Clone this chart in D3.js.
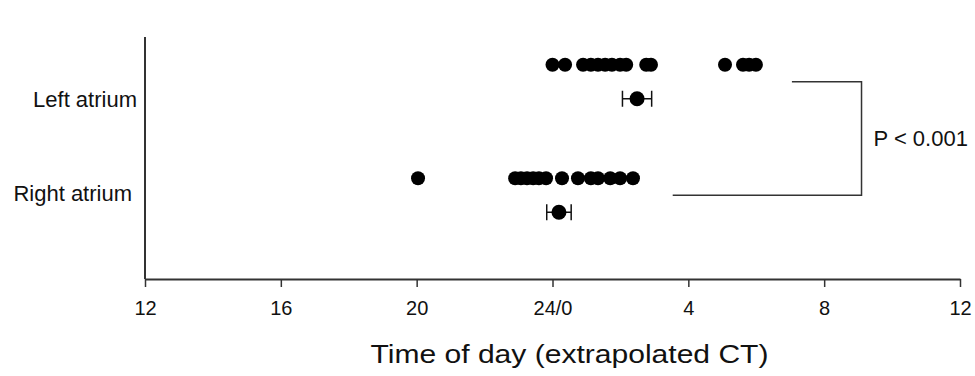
<!DOCTYPE html>
<html>
<head>
<meta charset="utf-8">
<script src="https://cdn.jsdelivr.net/npm/d3@7"></script>
<style>
  body { margin: 0; background: #fff; }
  svg { font-family: "Liberation Sans", Arial, sans-serif; }
</style>
</head>
<body>
<svg width="975" height="376"></svg>
<script>
// extrapolated CT, hours after 12:00 shown on a 12..36 scale (24 = midnight)
const categories = ["Left atrium", "Right atrium"];
const leftAtrium = [24.0, 24.37, 24.9, 25.13, 25.34, 25.55, 25.75, 25.99, 26.17, 26.76, 26.9, 29.08, 29.61, 29.79, 29.99];
const rightAtrium = [20.04, 22.9, 23.07, 23.25, 23.43, 23.6, 23.81, 24.28, 24.75, 25.13, 25.34, 25.7, 25.99, 26.37];
const means = [26.49, 24.19];
const sems = [0.43, 0.36];
const tickValues = [12, 16, 20, 24, 28, 32, 36];
const tickLabels = ["12", "16", "20", "24/0", "4", "8", "12"];
const pLabel = "P < 0.001";

const svg = d3.select("svg");
const margin = { left: 145, right: 15, top: 37, bottom: 97 };
const width = 975, height = 376;

const x = d3.scaleLinear()
  .domain([12, 36])
  .range([margin.left, width - margin.right]);

const y = d3.scaleBand()
  .domain(categories)
  .range([25, 252]);

const rowOffset = 17; // dots above centre, mean below
const groups = [leftAtrium, rightAtrium];

// y axis (line only)
svg.append("line")
  .attr("x1", margin.left).attr("x2", margin.left)
  .attr("y1", margin.top).attr("y2", height - margin.bottom)
  .attr("stroke", "#333").attr("stroke-width", 2);

// x axis
const xAxis = svg.append("g")
  .attr("transform", `translate(0,${height - margin.bottom})`)
  .call(d3.axisBottom(x)
    .tickValues(tickValues)
    .tickFormat((d, i) => tickLabels[i])
    .tickSize(8)
    .tickPadding(14)
    .tickSizeOuter(0));
xAxis.select(".domain").attr("stroke", "#333").attr("stroke-width", 2);
xAxis.selectAll(".tick line").attr("stroke", "#333").attr("stroke-width", 1.5);
xAxis.selectAll(".tick text")
  .style("font-size", "20px")
  .attr("fill", "#111");

svg.append("text")
  .attr("x", x(24.5))
  .attr("y", 363)
  .attr("text-anchor", "middle")
  .style("font-size", "25px")
  .attr("textLength", 398)
  .attr("lengthAdjust", "spacingAndGlyphs")
  .attr("fill", "#111")
  .text("Time of day (extrapolated CT)");

// category labels
const labelShift = [18, -2];
const labelEnd = [137, 132];
svg.selectAll(".cat")
  .data(categories)
  .enter()
  .append("text")
  .attr("class", "cat")
  .attr("x", (d, i) => labelEnd[i])
  .attr("y", (d, i) => y(d) + y.bandwidth() / 2 + labelShift[i])
  .attr("dy", "0.35em")
  .attr("text-anchor", "end")
  .style("font-size", "22px")
  .attr("fill", "#111")
  .text(d => d);

// individual dots
categories.forEach((c, i) => {
  const cy = y(c) + y.bandwidth() / 2 - rowOffset;
  svg.append("g")
    .selectAll("circle")
    .data(groups[i])
    .enter()
    .append("circle")
    .attr("cx", d => x(d))
    .attr("cy", cy)
    .attr("r", 7)
    .attr("fill", "#000");
});

// mean ± SEM
categories.forEach((c, i) => {
  const cy = y(c) + y.bandwidth() / 2 + rowOffset;
  const g = svg.append("g").attr("stroke", "#111").attr("stroke-width", 1.5);
  const lo = x(means[i] - sems[i]), hi = x(means[i] + sems[i]);
  g.append("line").attr("x1", lo).attr("x2", hi).attr("y1", cy).attr("y2", cy);
  g.append("line").attr("x1", lo).attr("x2", lo).attr("y1", cy - 8).attr("y2", cy + 8);
  g.append("line").attr("x1", hi).attr("x2", hi).attr("y1", cy - 8).attr("y2", cy + 8);
  svg.append("circle")
    .attr("cx", x(means[i]))
    .attr("cy", cy)
    .attr("r", 7.5)
    .attr("fill", "#000");
});

// significance bracket
const bx = x(33.1);
const yTop = y(categories[0]) + y.bandwidth() / 2;
const yBot = y(categories[1]) + y.bandwidth() / 2;
svg.append("path")
  .attr("d", `M${x(31.05)},${yTop}H${bx}V${yBot}H${x(27.54)}`)
  .attr("fill", "none")
  .attr("stroke", "#333")
  .attr("stroke-width", 1.5);

svg.append("text")
  .attr("x", bx + 12)
  .attr("y", (yTop + yBot) / 2)
  .attr("dy", "0.35em")
  .style("font-size", "22px")
  .attr("fill", "#111")
  .text(pLabel);
</script>
</body>
</html>
